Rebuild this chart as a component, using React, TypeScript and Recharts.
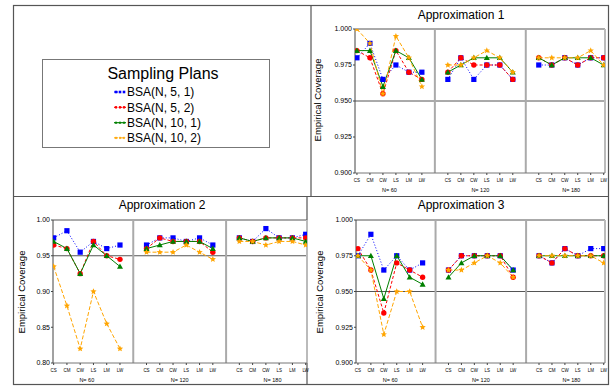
import { LineChart, Line, XAxis, YAxis, ReferenceLine } from 'recharts';

// categories / groups
const categories = ['CS', 'CM', 'CW', 'LS', 'LM', 'LW'];
const sampleSizes = [60, 120, 180];
const plans = ['BSA(N, 5, 1)', 'BSA(N, 5, 2)', 'BSA(N, 10, 1)', 'BSA(N, 10, 2)'];
const planColors = ['#0000ff', '#ff0000', '#008000', '#ffa500'];
const planDashes = ['1 2', '3 2', undefined, '4 2'];

// Approximation 1  (N=60 | N=120 | N=180)
const a1Plan1 = [0.98, 0.99, 0.965, 0.975, 0.97, 0.97, 0.965, 0.98, 0.965, 0.975, 0.975, 0.965, 0.975, 0.975, 0.98, 0.975, 0.98, 0.98];
const a1Plan2 = [0.985, 0.98, 0.955, 0.985, 0.97, 0.965, 0.97, 0.98, 0.975, 0.975, 0.975, 0.965, 0.98, 0.975, 0.98, 0.975, 0.98, 0.98];
const a1Plan3 = [0.985, 0.985, 0.96, 0.985, 0.98, 0.965, 0.97, 0.975, 0.98, 0.98, 0.98, 0.97, 0.98, 0.975, 0.98, 0.98, 0.98, 0.975];
const a1Plan4 = [1.0, 0.99, 0.955, 0.995, 0.98, 0.96, 0.975, 0.975, 0.98, 0.985, 0.98, 0.97, 0.98, 0.98, 0.98, 0.98, 0.985, 0.975];

// Approximation 2
const a2Plan1 = [0.975, 0.985, 0.955, 0.97, 0.96, 0.965, 0.965, 0.975, 0.975, 0.97, 0.975, 0.965, 0.975, 0.97, 0.988, 0.975, 0.975, 0.98];
const a2Plan2 = [0.965, 0.96, 0.925, 0.97, 0.95, 0.945, 0.96, 0.975, 0.97, 0.97, 0.97, 0.955, 0.975, 0.97, 0.975, 0.975, 0.975, 0.975];
const a2Plan3 = [0.97, 0.96, 0.925, 0.965, 0.95, 0.935, 0.96, 0.965, 0.97, 0.97, 0.97, 0.96, 0.975, 0.97, 0.975, 0.975, 0.975, 0.97];
const a2Plan4 = [0.935, 0.88, 0.82, 0.9, 0.855, 0.82, 0.955, 0.955, 0.955, 0.965, 0.955, 0.945, 0.97, 0.97, 0.965, 0.97, 0.97, 0.965];

// Approximation 3
const a3Plan1 = [0.975, 0.99, 0.965, 0.975, 0.965, 0.97, 0.965, 0.975, 0.975, 0.975, 0.975, 0.965, 0.975, 0.97, 0.98, 0.975, 0.98, 0.98];
const a3Plan2 = [0.98, 0.965, 0.935, 0.97, 0.965, 0.96, 0.965, 0.975, 0.975, 0.975, 0.975, 0.96, 0.975, 0.97, 0.98, 0.975, 0.975, 0.975];
const a3Plan3 = [0.975, 0.975, 0.945, 0.975, 0.96, 0.955, 0.96, 0.97, 0.975, 0.975, 0.975, 0.965, 0.975, 0.975, 0.975, 0.975, 0.975, 0.975];
const a3Plan4 = [0.975, 0.965, 0.92, 0.95, 0.95, 0.925, 0.965, 0.965, 0.97, 0.975, 0.97, 0.96, 0.975, 0.975, 0.975, 0.975, 0.975, 0.97];

const ticks3 = [0.9, 0.925, 0.95, 0.975, 1.0];
const ticks2 = [0.8, 0.85, 0.9, 0.95, 1.0];

const GAP = 7; // 6 categories + 1 empty slot for the divider
const catTicks = sampleSizes.flatMap((_, g) => categories.map((_, i) => g * GAP + i));
const nTicks = sampleSizes.map((_, g) => g * GAP + 2.5);

function buildRows(series: number[][]) {
  const rows: any[] = [];
  sampleSizes.forEach((_, g) => {
    if (g > 0) {
      const br: any = { x: g * GAP - 1 };
      series.forEach((_, k) => (br['p' + k] = null));
      rows.push(br);
    }
    categories.forEach((_, i) => {
      const row: any = { x: g * GAP + i };
      series.forEach((s, k) => (row['p' + k] = s[g * 6 + i]));
      rows.push(row);
    });
  });
  return rows;
}

function starPath(cx: number, cy: number, R: number) {
  let d = '';
  for (let i = 0; i < 10; i++) {
    const r = i % 2 === 0 ? R : R * 0.45;
    const a = -Math.PI / 2 + (i * Math.PI) / 5;
    d += (i ? 'L' : 'M') + (cx + r * Math.cos(a)).toFixed(2) + ' ' + (cy + r * Math.sin(a)).toFixed(2);
  }
  return d + 'Z';
}

function marker(k: number, cx: number, cy: number, s = 1, key?: any) {
  const c = planColors[k];
  if (k === 0) return <rect key={key} x={cx - 2.6 * s} y={cy - 2.6 * s} width={5.2 * s} height={5.2 * s} fill={c} />;
  if (k === 1) return <circle key={key} cx={cx} cy={cy} r={2.7 * s} fill={c} />;
  if (k === 2)
    return (
      <path key={key} d={`M${cx} ${cy - 3 * s}L${cx + 3 * s} ${cy + 2.3 * s}L${cx - 3 * s} ${cy + 2.3 * s}Z`} fill={c} />
    );
  return <path key={key} d={starPath(cx, cy, 3.3 * s)} fill={c} />;
}

function ApproxChart({ series, box, yDomain, yTicks, digits }: any) {
  const rows = buildRows(series);
  const xDomain = box.xDomain;
  return (
    <div style={{ position: 'absolute', left: box.left, top: box.top }}>
      <LineChart width={box.width} height={box.height} data={rows} margin={box.margin}>
        <XAxis
          dataKey="x"
          type="number"
          domain={xDomain}
          allowDataOverflow
          ticks={catTicks}
          interval={0}
          tickFormatter={(v: number) => categories[v % GAP]}
          tickSize={2}
          tickMargin={4}
          height={11}
          tick={{ fontSize: 4.5, fill: '#000' }}
          axisLine={{ stroke: '#777' }}
          tickLine={{ stroke: '#444' }}
        />
        <XAxis
          xAxisId="n"
          dataKey="x"
          type="number"
          domain={xDomain}
          allowDataOverflow
          ticks={nTicks}
          interval={0}
          tickFormatter={(v: number) => `N= ${sampleSizes[Math.round((v - 2.5) / GAP)]}`}
          tickSize={0}
          tickMargin={4}
          height={9}
          axisLine={false}
          tickLine={false}
          tick={{ fontSize: 5.5, fill: '#000' }}
        />
        <YAxis
          domain={yDomain}
          allowDataOverflow
          ticks={yTicks}
          interval={0}
          tickFormatter={(v: number) => v.toFixed(digits)}
          width={box.yWidth}
          tickSize={2}
          tickMargin={1}
          tick={{ fontSize: 7, fill: '#000' }}
          axisLine={{ stroke: '#444' }}
          tickLine={{ stroke: '#444' }}
        />
        <ReferenceLine y={yDomain[1]} stroke="#555" />
        <ReferenceLine y={0.95} stroke="#555" />
        <ReferenceLine x={6} stroke="#aaa" strokeWidth={2} />
        <ReferenceLine x={13} stroke="#aaa" strokeWidth={2} />
        <ReferenceLine x={xDomain[1]} stroke="#bbb" strokeWidth={2} />
        {series.map((_: number[], k: number) => (
          <Line
            key={k}
            dataKey={'p' + k}
            stroke={planColors[k]}
            strokeDasharray={planDashes[k]}
            strokeWidth={1}
            isAnimationActive={false}
            dot={(p: any) =>
              p.cy == null || p.cx == null ? <g key={p.index} /> : marker(k, p.cx, p.cy, 1, p.index)
            }
            activeDot={false}
          />
        ))}
      </LineChart>
    </div>
  );
}

const box1 = {
  left: 312, top: 6, width: 297, height: 190, yWidth: 38,
  margin: { top: 23, right: 4, bottom: 3, left: 5 }, xDomain: [-0.15, 19.1],
};
const box2 = {
  left: 14, top: 197, width: 296, height: 188, yWidth: 34,
  margin: { top: 23, right: 3, bottom: 2, left: 5 }, xDomain: [-0.05, 19.1],
};
const box3 = {
  left: 312, top: 197, width: 297, height: 188, yWidth: 38,
  margin: { top: 23, right: 4, bottom: 2, left: 6 }, xDomain: [-0.15, 19.1],
};

export default function App() {
  const frame = '#555';
  return (
    <div
      style={{
        position: 'absolute', left: 0, top: 0, width: 610, height: 387, background: '#fff',
        fontFamily: '"Liberation Sans", Arial, sans-serif',
      }}
    >
      <svg width={610} height={387} style={{ position: 'absolute', left: 0, top: 0 }}>
        {/* outer frame */}
        <rect x={13.5} y={5.5} width={595} height={379} fill="none" stroke={frame} strokeWidth={1.2} />
        <line x1={13} y1={196.5} x2={609} y2={196.5} stroke={frame} strokeWidth={1.2} />
        <line x1={311} y1={5} x2={311} y2={196} stroke={frame} strokeWidth={1.2} />
        <line x1={307} y1={196} x2={307} y2={385} stroke={frame} strokeWidth={1.2} />

        {/* titles */}
        <text x={461} y={19} fontSize={12} textAnchor="middle">Approximation  1</text>
        <text x={162} y={209} fontSize={12} textAnchor="middle">Approximation  2</text>
        <text x={461} y={209} fontSize={12} textAnchor="middle">Approximation  3</text>

        {/* y titles */}
        <text x={321} y={100} fontSize={9.5} textAnchor="middle" transform="rotate(-90 321 100)">Empirical  Coverage</text>
        <text x={25} y={292} fontSize={9.5} textAnchor="middle" transform="rotate(-90 25 292)">Empirical  Coverage</text>
        <text x={323} y={292} fontSize={9.5} textAnchor="middle" transform="rotate(-90 323 292)">Empirical  Coverage</text>

        {/* legend */}
        <rect x={42.5} y={59.5} width={227} height={88} fill="none" stroke="#777" strokeWidth={1} />
        <text x={163} y={79} fontSize={16} textAnchor="middle">Sampling  Plans</text>
        {plans.map((p, k) => {
          const y = 92 + k * 15.3;
          return (
            <g key={p}>
              <line x1={114} y1={y} x2={126} y2={y} stroke={planColors[k]} strokeWidth={1} strokeDasharray={planDashes[k]} />
              {[116, 120, 124].map((mx) => marker(k, mx, y, 0.5, mx))}
              <text x={127} y={y + 4.3} fontSize={12}>{p}</text>
            </g>
          );
        })}
      </svg>

      <ApproxChart series={[a1Plan1, a1Plan2, a1Plan3, a1Plan4]} box={box1} yDomain={[0.9, 1.0]} yTicks={ticks3} digits={3} />
      <ApproxChart series={[a2Plan1, a2Plan2, a2Plan3, a2Plan4]} box={box2} yDomain={[0.8, 1.0]} yTicks={ticks2} digits={2} />
      <ApproxChart series={[a3Plan1, a3Plan2, a3Plan3, a3Plan4]} box={box3} yDomain={[0.9, 1.0]} yTicks={ticks3} digits={3} />
    </div>
  );
}
